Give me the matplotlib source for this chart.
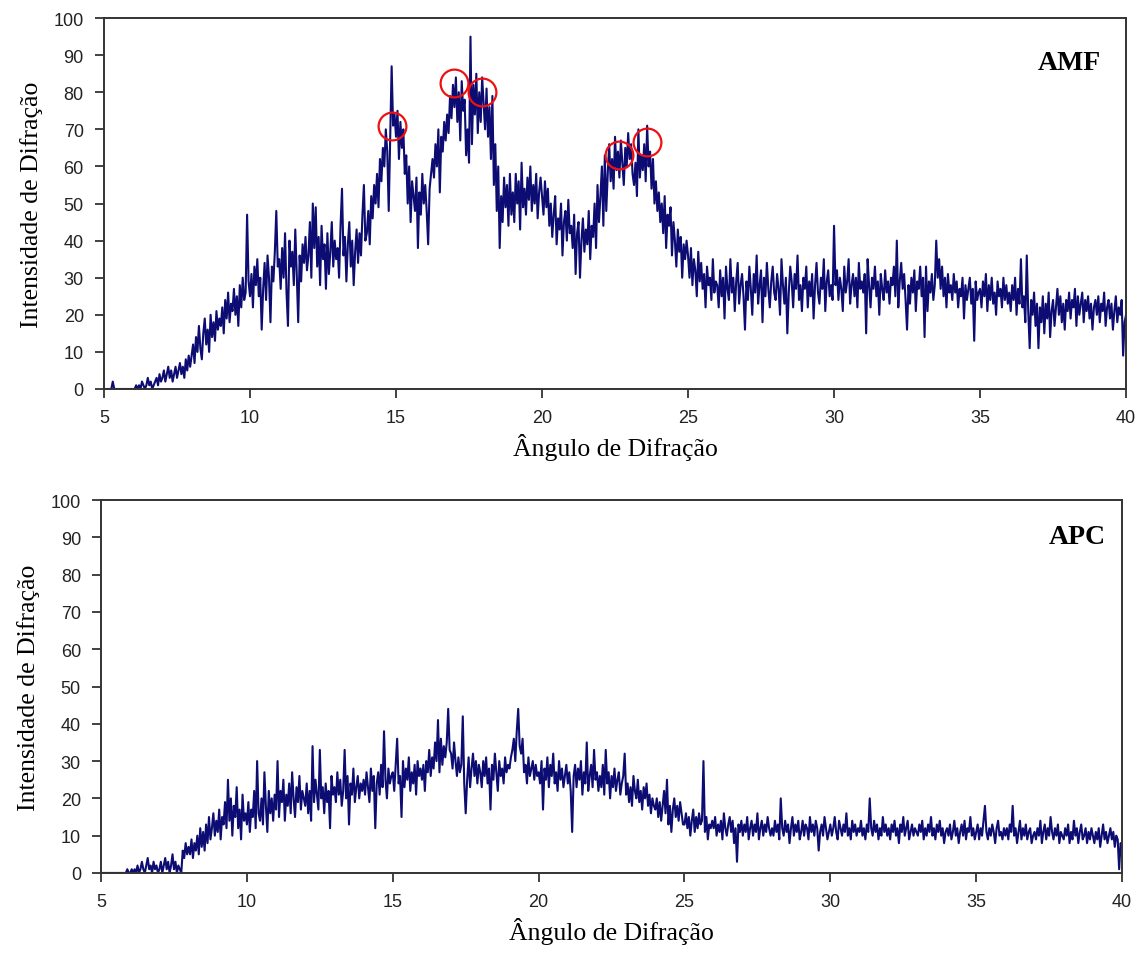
import numpy as np
import matplotlib
matplotlib.use("Agg")
import matplotlib.pyplot as plt

# 2-theta grid: 5.00 .. 40.00 step 0.05 (rows below = 1 degree each, 20 values)
angle_start, angle_stop, angle_step = 5.0, 40.0, 0.05

amf_rows = [
    [0,0,0,0,0,0,2,0,0,0,0,0,0,0,0,0,0,0,0,0],                      # 5
    [0,0,1,0,1,0,2,1,0,1,3,1,2,0,1,2,3,1,4,2],                      # 6
    [3,5,2,4,6,3,5,2,4,6,3,5,7,4,6,3,8,5,9,6],                      # 7
    [9,12,7,14,10,17,11,8,15,19,12,16,10,20,14,18,13,21,16,19],     # 8
    [17,22,15,24,19,26,18,23,21,27,20,25,17,28,22,30,24,26,47,29],  # 9
    [25,31,22,33,28,35,25,30,16,27,34,24,36,30,18,33,29,37,48,33],  # 10
    [35,27,38,30,42,26,17,40,33,37,28,43,31,18,36,29,39,34,41,32],  # 11
    [36,45,30,50,38,49,33,41,28,44,35,39,27,42,31,37,45,33,40,35],  # 12
    [38,30,44,54,36,41,29,39,45,33,40,28,37,43,34,42,36,47,55,40],  # 13
    [42,48,39,52,46,55,50,58,49,62,56,65,60,70,64,48,68,87,71,74],  # 14
    [68,75,62,72,65,70,58,63,50,60,45,56,52,48,57,38,53,47,58,50],  # 15
    [55,48,39,54,58,62,57,66,60,70,53,68,64,72,67,74,69,79,73,82],  # 16
    [76,84,72,80,67,83,75,78,63,70,61,95,66,82,74,85,69,80,72,84],  # 17
    [77,70,81,68,76,62,79,55,66,48,60,38,52,45,57,49,55,44,58,47],  # 18
    [53,45,58,50,56,43,61,49,54,47,57,51,60,48,55,50,58,46,53,57],  # 19
    [52,47,56,49,54,44,50,41,47,52,39,46,43,50,36,45,48,40,51,42],  # 20
    [44,38,47,31,42,45,30,40,46,37,43,39,48,35,44,41,50,38,55,45],  # 21
    [52,60,44,63,48,58,66,56,62,54,68,59,64,57,67,61,55,65,60,69],  # 22
    [62,66,58,55,61,52,70,57,63,59,66,56,71,60,64,54,62,50,56,48],  # 23
    [53,45,50,42,52,38,47,44,49,36,45,40,33,43,37,41,30,39,35,40],  # 24
    [36,30,38,28,35,32,25,37,29,34,27,31,22,33,28,30,24,35,26,29],  # 25
    [28,22,32,25,30,19,33,27,24,35,26,30,21,29,34,23,28,31,25,16],  # 26
    [29,24,33,27,20,31,26,36,23,28,32,18,30,25,34,27,22,29,33,26],  # 27
    [24,31,27,20,35,28,23,30,15,26,33,29,22,31,27,36,24,28,21,30],  # 28
    [27,33,22,29,25,31,19,28,34,26,23,30,27,35,21,29,32,25,28,24],  # 29
    [44,28,32,24,30,27,21,33,26,29,35,23,28,31,25,30,22,34,27,29],  # 30
    [26,31,15,35,28,22,30,27,33,25,29,20,31,27,24,32,26,29,23,30],  # 31
    [28,33,25,40,22,29,34,27,31,24,16,28,23,30,26,32,21,29,27,33],  # 32
    [25,30,14,33,21,29,26,31,24,28,40,30,35,27,33,25,30,22,31,26],  # 33
    [28,24,31,26,29,22,27,25,30,19,28,24,27,30,23,27,13,29,24,26],  # 34
    [27,22,29,25,31,21,28,24,30,23,26,20,29,25,27,22,30,24,28,23],  # 35
    [26,21,28,24,30,20,27,23,35,22,25,18,36,21,11,24,20,26,17,23],  # 36
    [11,22,18,25,15,23,19,26,14,21,24,17,22,27,20,25,18,23,16,24],  # 37
    [21,26,19,24,22,27,17,25,20,23,26,18,24,21,25,19,23,16,22,24],  # 38
    [20,25,18,23,21,26,17,22,24,19,23,16,21,25,18,22,20,24,9,18],   # 39
]
amf_last = [20]                                                      # 40

apc_rows = [
    [0,0,0,0,0,0,0,0,0,0,0,0,0,0,0,0,0,0,1,0],                      # 5
    [0,1,0,1,0,2,0,1,3,1,0,2,4,1,2,0,3,1,2,0],                      # 6
    [1,3,0,2,4,1,3,0,2,5,1,3,0,2,1,0,6,4,8,5],                      # 7
    [7,5,9,4,8,6,10,5,12,7,11,6,13,8,15,9,12,16,10,14],             # 8
    [11,17,9,15,13,19,12,25,14,20,10,18,15,23,12,17,9,21,14,16],    # 9
    [13,19,11,17,15,22,12,30,16,14,20,13,27,18,11,22,16,20,14,21],  # 10
    [17,30,15,22,19,25,14,21,18,24,16,27,20,15,23,19,26,17,22,20],  # 11
    [18,24,16,22,14,34,19,25,21,17,33,20,23,16,24,19,22,12,26,21],  # 12
    [23,19,27,21,25,18,22,33,20,26,13,24,21,28,19,23,26,20,24,22],  # 13
    [25,21,27,23,19,28,22,26,12,24,27,21,29,23,38,25,20,28,24,26],  # 14
    [27,22,29,36,24,26,15,30,23,28,25,31,22,27,24,29,21,30,26,28],  # 15
    [25,29,22,30,27,33,26,31,28,35,30,41,27,36,29,34,31,35,44,33],  # 16
    [32,28,35,30,26,31,27,29,42,24,16,25,31,23,28,32,26,30,24,29],  # 17
    [27,23,30,26,31,24,28,17,29,25,32,27,22,30,26,28,24,31,27,29],  # 18
    [28,31,33,36,30,38,44,34,32,36,27,29,24,31,26,28,30,25,29,26],  # 19
    [27,24,30,17,28,25,31,23,29,26,32,24,27,22,30,25,28,23,26,29],  # 20
    [24,27,22,11,26,29,23,28,25,30,21,27,24,35,22,26,29,23,33,25],  # 21
    [27,22,26,23,29,21,33,24,27,20,26,23,28,22,25,27,21,24,26,32],  # 22
    [21,24,19,23,18,26,22,20,25,19,22,17,23,20,24,18,21,16,20,18],  # 23
    [17,20,15,19,14,18,22,16,25,13,18,11,17,20,15,18,14,19,16,13],  # 24
    [13,16,12,15,10,14,17,11,15,12,16,13,14,30,11,15,9,13,12,14],   # 25
    [12,15,10,13,11,14,9,16,12,10,13,15,11,14,8,12,3,13,11,14],     # 26
    [10,13,11,15,9,12,14,10,13,11,16,9,12,14,10,13,11,15,12,10],    # 27
    [12,10,14,11,13,9,20,12,10,14,11,13,8,12,15,10,13,11,14,9],     # 28
    [11,14,10,13,12,9,15,11,13,10,14,12,6,11,13,10,15,12,9,11],     # 29
    [13,10,12,15,11,9,14,12,10,13,11,16,10,12,9,14,11,13,10,12],    # 30
    [11,14,10,12,9,13,11,20,12,10,14,11,13,9,12,10,15,11,13,10],    # 31
    [12,9,13,11,14,10,12,8,13,11,15,10,12,14,9,11,13,10,12,11],     # 32
    [10,13,11,14,9,12,10,13,11,15,10,12,9,13,11,14,10,12,8,11],     # 33
    [12,10,13,9,11,14,10,12,8,11,13,10,14,9,12,11,15,10,12,9],      # 34
    [11,13,9,12,10,14,18,11,9,12,10,13,11,8,12,14,10,11,9,12],      # 35
    [10,12,9,13,11,18,10,12,8,11,14,9,12,10,13,9,11,12,8,10],       # 36
    [11,9,12,10,14,8,11,13,9,12,10,15,11,9,12,10,13,8,11,10],       # 37
    [9,12,10,13,8,11,9,14,10,12,8,11,13,9,10,12,8,11,9,12],         # 38
    [10,8,11,9,12,7,10,13,9,11,8,10,12,9,11,7,10,9,1,8],            # 39
]
apc_last = [7]                                                       # 40

# highlighted peaks (AMF)
circle_x = [14.86, 16.99, 17.95, 22.64, 23.60]
circle_y = [70.9, 82.5, 80.1, 63.1, 66.6]

x_ticks = [5, 10, 15, 20, 25, 30, 35, 40]
y_ticks = [0, 10, 20, 30, 40, 50, 60, 70, 80, 90, 100]
x_label = "Ângulo de Difração"
y_label = "Intensidade de Difração"

amf = np.array([v for r in amf_rows for v in r] + amf_last, dtype=float)
apc = np.array([v for r in apc_rows for v in r] + apc_last, dtype=float)
angle = np.round(np.linspace(angle_start, angle_stop, len(amf)), 3)

line_color = "#0c0c72"
tick_font = {"family": "Liberation Sans", "size": 13}
label_font = {"family": "Liberation Serif", "size": 18.5}

fig = plt.figure(figsize=(11.38, 9.54), dpi=100)
ax1 = fig.add_axes([0.0914, 0.5912, 0.8981, 0.3888])
ax2 = fig.add_axes([0.0888, 0.0839, 0.8972, 0.3909])

def style(ax, name, name_pos):
    ax.set_xlim(5, 40)
    ax.set_ylim(0, 100)
    ax.set_xticks(x_ticks)
    ax.set_yticks(y_ticks)
    ax.set_xticklabels([str(t) for t in x_ticks], fontdict=tick_font, color="#222222")
    ax.set_yticklabels([str(t) for t in y_ticks], fontdict=tick_font, color="#222222")
    ax.tick_params(direction="out", length=6.5, width=1.3, color="#333333", pad=8,
                   top=False, right=False)
    for s in ax.spines.values():
        s.set_linewidth(1.4)
        s.set_color("#333333")
    ax.set_xlabel(x_label, fontdict=label_font, labelpad=5)
    ax.set_ylabel(y_label, fontdict=label_font, labelpad=8)
    ax.text(name_pos[0], name_pos[1], name, transform=ax.transAxes, ha="right", va="center",
            fontfamily="Liberation Serif", fontweight="bold", fontsize=20)

ax1.plot(angle, amf, color=line_color, lw=1.5, clip_on=True)
ax1.plot(circle_x, circle_y, linestyle="none", marker="o", markersize=20,
         markerfacecolor="none", markeredgecolor="#ee1111", markeredgewidth=1.6)
style(ax1, "AMF", (0.975, 0.881))

ax2.plot(angle, apc, color=line_color, lw=1.5, clip_on=True)
style(ax2, "APC", (0.984, 0.903))

fig.savefig("out.png", dpi=100, facecolor="white")
